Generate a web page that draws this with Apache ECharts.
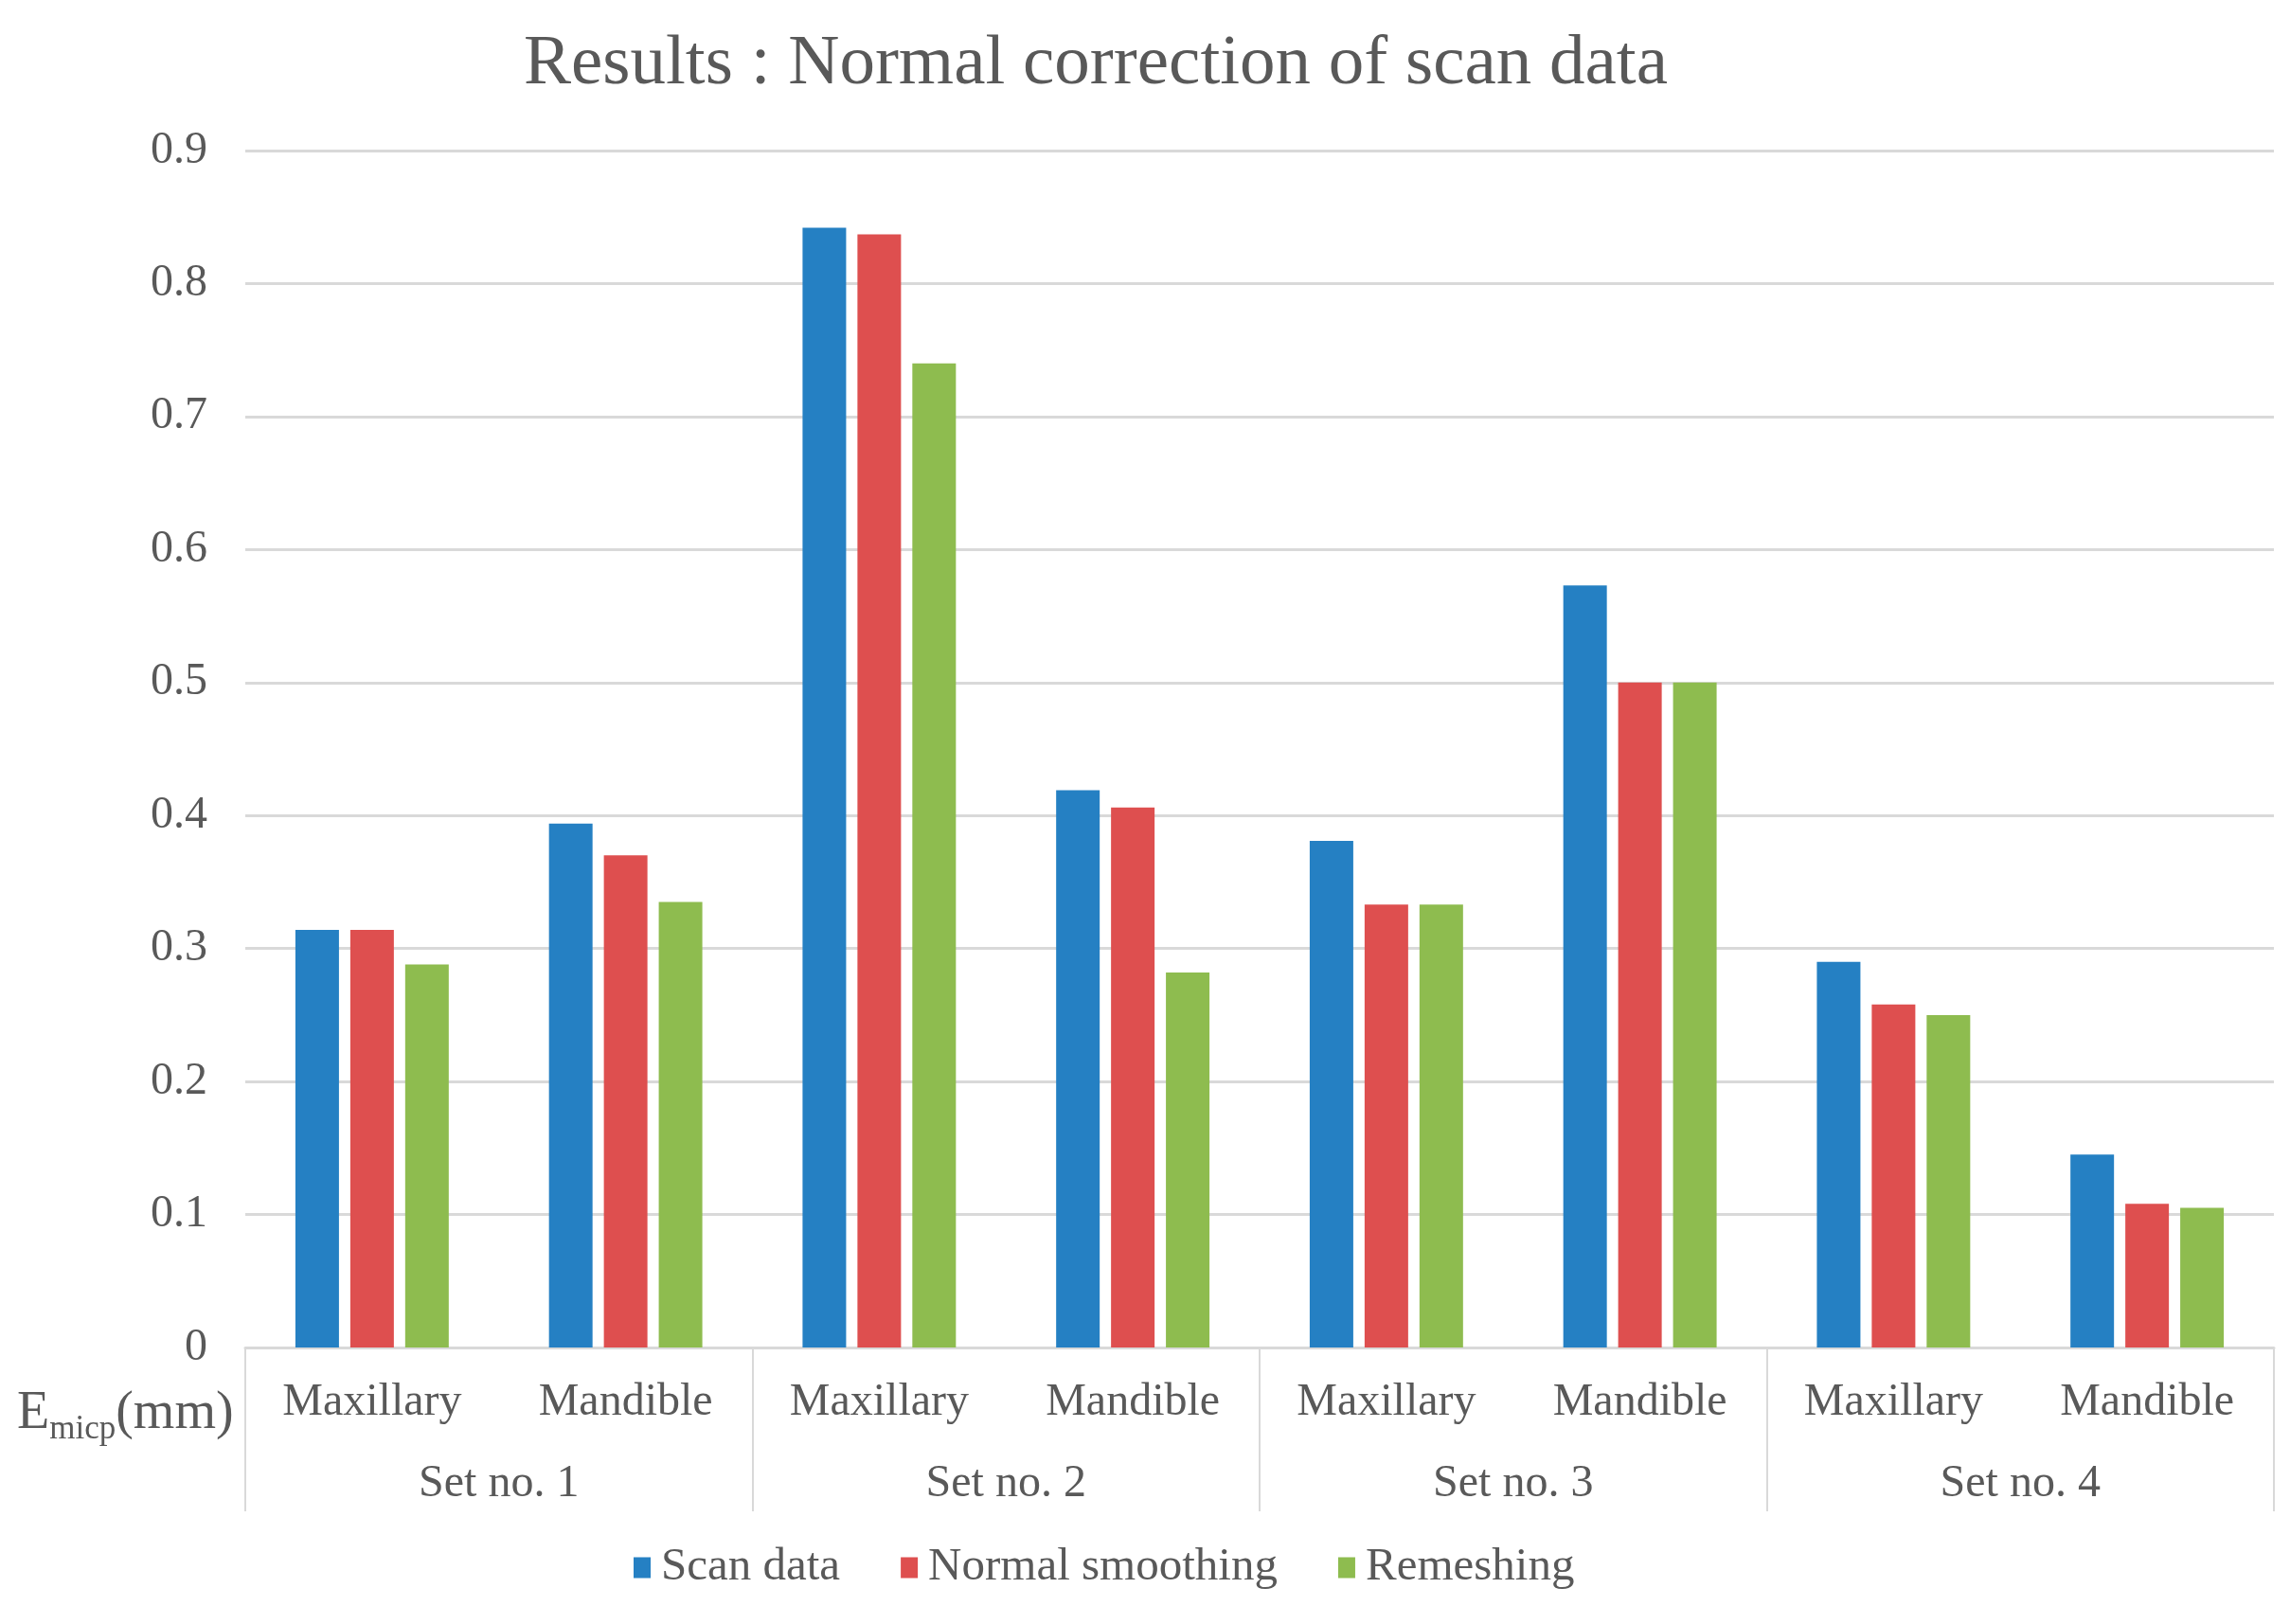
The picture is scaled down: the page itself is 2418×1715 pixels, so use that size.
<!DOCTYPE html>
<html>
<head>
<meta charset="utf-8">
<script src="https://cdn.jsdelivr.net/npm/echarts@6/dist/echarts.min.js"></script>
<style>
  html, body { margin: 0; padding: 0; background: #fff; }
  #chart { width: 2418px; height: 1715px; }
</style>
</head>
<body>
<div id="chart"></div>
<script>
const jaws = ['Maxillary', 'Mandible', 'Maxillary', 'Mandible', 'Maxillary', 'Mandible', 'Maxillary', 'Mandible'];
const sets = ['Set no. 1', 'Set no. 2', 'Set no. 3', 'Set no. 4'];
const scanData = [0.314, 0.394, 0.842, 0.419, 0.381, 0.573, 0.290, 0.145];
const normalSmoothing = [0.314, 0.370, 0.837, 0.406, 0.333, 0.500, 0.258, 0.108];
const remeshing = [0.288, 0.335, 0.740, 0.282, 0.333, 0.500, 0.250, 0.105];
const yTicks = { min: 0, max: 0.9, interval: 0.1 };

const font = '"Liberation Serif", "DejaVu Serif", serif';
const grey = '#595959';
const lineGrey = '#d9d9d9';

const chart = echarts.init(document.getElementById('chart'));

const bar = (name, data, color) => ({
  name, type: 'bar', data, xAxisIndex: 0,
  barWidth: 46, barGap: '26%',
  itemStyle: { color }
});

chart.setOption({
  animation: false,
  backgroundColor: '#fff',
  title: {
    text: 'Results : Normal correction of scan data',
    left: 1152, top: 26, textAlign: 'center',
    textStyle: { fontFamily: font, fontSize: 75, fontWeight: 'normal', color: grey }
  },
  legend: {
    bottom: 30, left: 664,
    itemWidth: 18, itemHeight: 22, itemGap: 64,
    icon: 'rect',
    textStyle: { fontFamily: font, fontSize: 49, color: grey, padding: [0, 0, 0, 6] },
    data: ['Scan data', 'Normal smoothing', 'Remeshing']
  },
  grid: { left: 259, right: 17, top: 159, bottom: 292 },
  xAxis: [
    {
      type: 'category', data: jaws, position: 'bottom',
      axisLine: { lineStyle: { color: lineGrey, width: 3 } },
      axisTick: { show: false },
      axisLabel: { fontFamily: font, fontSize: 48, color: grey, margin: 34 }
    },
    {
      type: 'category', data: sets, position: 'bottom',
      axisLine: { show: false },
      axisTick: { show: true, length: 173, lineStyle: { color: lineGrey, width: 2 } },
      axisLabel: { fontFamily: font, fontSize: 48, color: grey, margin: 120 }
    }
  ],
  yAxis: {
    type: 'value', ...yTicks,
    axisLine: { show: false },
    axisTick: { show: false },
    axisLabel: { fontFamily: font, fontSize: 48, color: grey, margin: 40 },
    splitLine: { lineStyle: { color: lineGrey, width: 3 } }
  },
  graphic: [{
    type: 'text', left: 18, top: 1460,
    style: {
      text: '{e|E}{s|micp}{e|(mm)}',
      rich: {
        e: { fontFamily: font, fontSize: 56, fill: grey, lineHeight: 66 },
        s: { fontFamily: font, fontSize: 35, fill: grey, lineHeight: 66, padding: [32, 0, 0, 0] }
      }
    }
  }],
  series: [
    bar('Scan data', scanData, '#2580C3'),
    bar('Normal smoothing', normalSmoothing, '#DE4F4F'),
    bar('Remeshing', remeshing, '#8EBC4F')
  ]
});
</script>
</body>
</html>
